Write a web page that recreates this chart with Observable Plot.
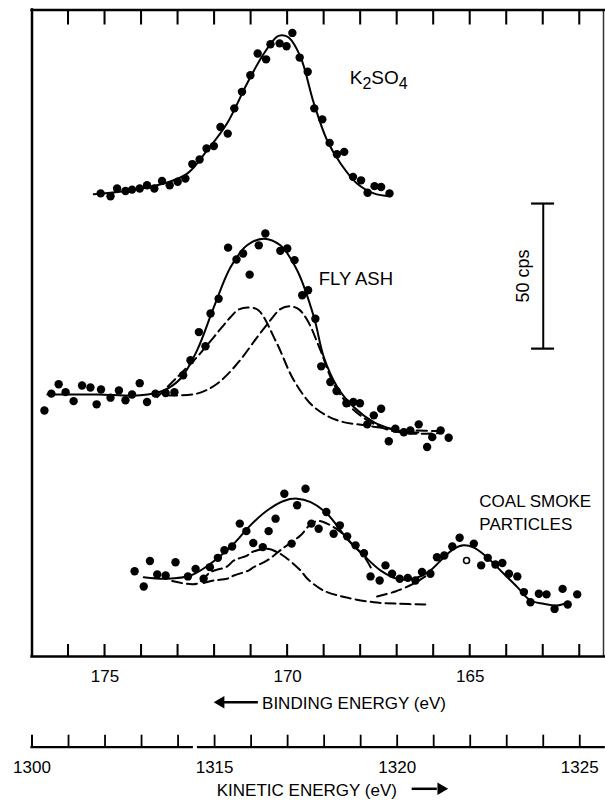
<!DOCTYPE html>
<html>
<head>
<meta charset="utf-8">
<script src="https://cdn.jsdelivr.net/npm/d3@7"></script>
<script src="https://cdn.jsdelivr.net/npm/@observablehq/plot@0.6"></script>
<style>
html, body { margin: 0; padding: 0; background: #fff; }
</style>
</head>
<body>
<div id="chart"></div>
<script>
// ---- Data: [binding energy (eV), intensity (cps, stacked offsets)] ----
const k2so4Dots = [[175.12,159.6],[174.85,158.6],[174.67,161.3],[174.44,160.4],[174.26,160.9],[174.05,161.3],[173.85,162.4],[173.65,161.3],[173.44,163.9],[173.23,162.4],[173.01,163.6],[172.80,164.7],[172.61,169.7],[172.41,171.3],[172.22,175.1],[172.02,175.9],[171.84,182.5],[171.64,180.2],[171.46,188.9],[171.25,194.6],[171.02,200.3],[170.82,207.8],[170.59,205.8],[170.47,211.0],[170.22,211.3],[170.03,210.3],[169.87,214.9],[169.67,206.4],[169.45,201.5],[169.27,188.9],[169.05,185.1],[168.85,177.0],[168.65,173.1],[168.45,173.9],[168.21,165.3],[167.99,164.1],[167.81,159.8],[167.62,162.1],[167.44,161.8],[167.21,159.6]];
const k2so4Fit = [[175.31,159.3],[174.30,160.7],[173.39,163.0],[172.75,166.4],[172.20,174.5],[171.66,183.7],[171.11,197.5],[170.65,207.8],[170.29,213.6],[170.15,214.1],[169.97,213.3],[169.65,206.7],[169.28,190.6],[168.92,177.9],[168.55,169.9],[168.10,163.0],[167.64,159.6],[167.18,158.6]];

const flyAshDots = [[176.66,84.8],[176.47,90.6],[176.27,93.8],[176.08,91.1],[175.86,88.0],[175.63,93.4],[175.40,92.7],[175.23,86.9],[175.11,92.0],[174.85,89.2],[174.62,91.7],[174.44,88.3],[174.26,90.3],[174.05,94.2],[173.85,87.7],[173.62,90.6],[173.34,90.8],[173.10,91.1],[172.86,96.9],[172.66,102.1],[172.43,111.8],[172.25,106.9],[172.11,118.2],[171.89,123.3],[171.63,140.9],[171.40,136.8],[171.22,138.9],[171.04,131.6],[170.79,141.7],[170.61,145.8],[170.20,139.8],[170.01,140.6],[169.81,136.6],[169.60,124.5],[169.44,126.2],[169.24,116.4],[169.08,100.0],[168.83,94.6],[168.66,91.5],[168.39,87.3],[168.20,87.7],[168.02,87.3],[167.82,80.0],[167.64,83.1],[167.44,85.4],[167.23,74.2],[167.05,78.5],[166.82,77.3],[166.64,77.9],[166.41,80.0],[166.18,72.2],[166.04,75.6],[165.81,77.9],[165.59,75.4]];
const flyAshFit = [[176.58,90.3],[175.21,90.3],[174.03,90.0],[173.39,91.7],[172.93,95.8],[172.48,105.5],[172.02,120.4],[171.56,134.2],[171.11,141.7],[170.65,144.0],[170.20,141.7],[169.74,133.1],[169.28,117.0],[169.01,103.2],[168.64,92.9],[168.19,86.0],[167.64,80.8],[167.18,78.5],[166.73,77.3],[166.42,77.2]];
const flyAshComp1 = [[173.57,89.4],[173.02,96.3],[172.48,103.2],[172.02,110.1],[171.56,117.0],[171.35,119.5],[171.07,120.3],[170.80,119.3],[170.29,107.8],[169.83,95.2],[169.28,86.0],[168.64,81.4],[167.91,79.7],[167.18,78.5],[166.55,77.9],[165.81,77.7]];
const flyAshComp2 = [[173.30,90.0],[172.48,90.6],[171.93,94.0],[171.38,100.9],[170.83,110.1],[170.47,115.9],[170.20,119.7],[169.95,120.7],[169.70,119.7],[169.46,115.9],[169.10,105.5],[168.74,94.0],[168.28,86.0],[167.73,80.8],[167.18,77.9],[166.55,76.8],[165.81,77.0]];

const coalDots = [[174.19,29.4],[173.94,24.1],[173.77,32.9],[173.57,28.3],[173.34,27.9],[173.07,32.5],[172.73,27.6],[172.52,30.2],[172.30,26.8],[172.13,30.8],[171.91,34.0],[171.73,36.6],[171.52,37.9],[171.31,45.8],[171.13,43.2],[170.94,39.1],[170.68,37.7],[170.52,43.2],[170.33,47.5],[170.09,56.1],[169.89,38.9],[169.74,52.1],[169.51,57.8],[169.35,45.8],[169.15,44.0],[168.94,49.8],[168.74,42.3],[168.57,45.2],[168.37,41.4],[168.14,38.3],[167.91,35.6],[167.73,27.6],[167.48,26.2],[167.32,31.4],[167.14,28.5],[166.93,26.8],[166.71,27.1],[166.50,26.2],[166.32,29.1],[166.09,28.5],[165.91,34.2],[165.71,34.8],[165.49,37.9],[165.29,40.9],[164.90,38.9],[164.70,31.4],[164.52,34.0],[164.31,31.7],[164.12,32.2],[163.94,28.5],[163.71,27.6],[163.53,22.2],[163.35,18.7],[163.12,21.6],[162.91,21.4],[162.69,16.4],[162.47,23.3],[162.33,17.9],[162.07,21.4]];
const coalOpenDots = [[165.10,33.1]];
const coalFit = [[173.94,27.3],[173.30,26.8],[172.66,27.9],[172.11,32.0],[171.47,38.9],[171.02,45.2],[170.56,50.3],[170.11,53.6],[169.74,54.4],[169.37,53.2],[168.92,49.2],[168.37,40.6],[167.91,34.8],[167.46,29.7],[167.00,26.8],[166.55,26.8],[166.09,29.7],[165.72,34.2],[165.45,37.1],[165.18,38.3],[164.90,37.5],[164.54,34.2],[164.08,28.5],[163.71,23.9],[163.35,19.3],[162.99,18.2],[162.62,17.6],[162.30,18.7]];
const coalComp1 = [[173.16,26.0],[172.48,25.1],[172.11,29.1],[171.66,31.0],[171.47,33.1],[171.11,34.8],[170.97,36.0],[170.56,37.1],[170.29,36.0],[170.06,34.2],[169.65,29.7],[169.46,26.8],[169.10,23.3],[168.92,22.2],[168.42,20.4],[167.64,18.7],[167.00,18.2],[166.23,17.9]];
const coalComp2 = [[172.30,25.3],[172.02,26.2],[171.66,26.8],[171.47,27.9],[171.06,29.7],[170.93,30.8],[170.56,33.1],[170.15,37.1],[169.65,41.7],[169.40,45.2],[169.19,46.7],[168.92,45.8],[168.55,42.9],[168.28,39.3],[167.91,34.5],[167.68,29.7]];
const coalComp3 = [[167.55,20.7],[167.05,22.4],[166.55,25.1],[166.23,27.6]];

// ---- Axis ticks and labels ----
const bindingTicks = [176,175,174,173,172,171,170,169,168,167,166,165,164,163,162];
const bindingLabels = [175, 170, 165];
const kineticTickPositions = [177, 172, 167, 162];   // binding-energy positions of the kinetic labels
const kineticLabels = ["1300", "1315", "1320", "1325"];
const scaleBarCps = [106.1, 156.1];                   // 50 cps bar

// ---- Helpers ----
const rows = pairs => pairs.map(([be, cps]) => ({be, cps}));
const X0 = 177, X1 = 161.35, YTOP = 222.8, PX = 2.9;  // PX: pixels per cps
const HALF = 0.028;                                     // half tick width in eV (~1 px)
const font = "'Liberation Sans', Arial, sans-serif";

const solid = {x: "be", y: "cps", curve: "catmull-rom", stroke: "black", strokeWidth: 2};
const dashed = {...solid, strokeDasharray: "10,5"};
const dots = {x: "be", y: "cps", r: 4.2, fill: "black"};

const chart = Plot.plot({
  width: 605,
  height: 805,
  marginLeft: 31.5,
  marginRight: 2,
  marginTop: 9.5,
  marginBottom: 149,
  x: {domain: [X0, X1], label: null},
  y: {domain: [0, YTOP], axis: null},
  style: {fontFamily: font, fontSize: "17px", background: "white", color: "black"},
  marks: [
    // frame
    Plot.ruleX([X0], {y1: 0, y2: YTOP, strokeWidth: 2.5, strokeLinecap: "square"}),
    Plot.ruleX([X1], {y1: 0, y2: YTOP, strokeWidth: 1.5, strokeOpacity: 0.8}),
    Plot.ruleY([0, YTOP], {x1: X0, x2: 161.3, strokeWidth: 2.3, strokeLinecap: "square"}),
    // inside ticks, top and bottom (filled bars)
    Plot.rect(bindingTicks, {x1: d => d + HALF, x2: d => d - HALF, y1: YTOP - 15 / PX, y2: YTOP, fill: "black", inset: 0}),
    Plot.rect(bindingTicks, {x1: d => d + HALF, x2: d => d - HALF, y1: 0, y2: 12 / PX, fill: "black", inset: 0}),
    // binding energy labels
    Plot.axisX(bindingLabels, {anchor: "bottom", tickSize: 0, tickPadding: 13.6, fontSize: 17, tickFormat: d => String(d), label: null}),
    Plot.text(["BINDING ENERGY (eV)"], {x: 170.70, y: 0, dy: 52.3, text: d => d, textAnchor: "start", lineAnchor: "bottom", fontSize: 17}),
    Plot.ruleY([0], {x1: 171.75, x2: 170.80, dy: 45.7, strokeWidth: 2.5}),
    Plot.dot([0], {x: 171.83, y: 0, dy: 45.7, symbol: "triangle", rotate: -90, r: 4.6, fill: "black"}),
    // kinetic energy axis (broken line)
    Plot.ruleY([0], {x1: X0, x2: 172.61, dy: 90.7, strokeWidth: 2.2, strokeLinecap: "square"}),
    Plot.ruleY([0], {x1: 172.47, x2: 161.3, dy: 90.7, strokeWidth: 2.2}),
    Plot.ruleX([X0], {y1: 0, y2: 12 / PX, dy: 90.7, strokeWidth: 2}),
    Plot.ruleX(bindingTicks, {y1: 0, y2: 12 / PX, dy: 90.7, strokeWidth: 1.8}),
    Plot.axisX(kineticTickPositions, {anchor: "bottom", tickSize: 0, tickPadding: 104.6, fontSize: 17, tickFormat: d => kineticLabels[kineticTickPositions.indexOf(d)], label: null}),
    Plot.text(["KINETIC ENERGY (eV)"], {x: 171.94, y: 0, dy: 139, text: d => d, textAnchor: "start", lineAnchor: "bottom", fontSize: 17}),
    Plot.ruleY([0], {x1: 166.59, x2: 165.90, dy: 132.3, strokeWidth: 2.5}),
    Plot.dot([0], {x: 165.80, y: 0, dy: 132.3, symbol: "triangle", rotate: 90, r: 4.6, fill: "black"}),
    // 50 cps scale bar
    Plot.ruleX([163.0], {y1: scaleBarCps[0], y2: scaleBarCps[1], strokeWidth: 2}),
    Plot.ruleY(scaleBarCps, {x1: 163.32, x2: 162.69, strokeWidth: 2.2}),
    Plot.text(["50 cps"], {x: 163.55, y: (scaleBarCps[0] + scaleBarCps[1]) / 2, text: d => d, rotate: -90, fontSize: 18}),
    // fitted curves
    Plot.line(rows(k2so4Fit), solid),
    Plot.line(rows(flyAshFit), solid),
    Plot.line(rows(flyAshComp1), dashed),
    Plot.line(rows(flyAshComp2), dashed),
    Plot.line(rows(coalFit), solid),
    Plot.line(rows(coalComp1), dashed),
    Plot.line(rows(coalComp2), dashed),
    Plot.line(rows(coalComp3), dashed),
    // measured points
    Plot.dot(rows(k2so4Dots), dots),
    Plot.dot(rows(flyAshDots), dots),
    Plot.dot(rows(coalDots), dots),
    Plot.dot(rows(coalOpenDots), {x: "be", y: "cps", r: 3, fill: "white", stroke: "black", strokeWidth: 1.6}),
    // sample labels
    Plot.text(["K2SO4"], {x: 168.30, y: 197.2, text: d => d, textAnchor: "start", lineAnchor: "bottom", fontSize: 19}),
    Plot.text(["FLY ASH"], {x: 169.15, y: 127.9, text: d => d, textAnchor: "start", lineAnchor: "bottom", fontSize: 18.5}),
    Plot.text(["COAL SMOKE\nPARTICLES"], {x: 164.75, y: 43.45, text: d => d, textAnchor: "start", lineAnchor: "bottom", fontSize: 17, lineHeight: 1.37})
  ]
});

// subscripts for K2SO4
const svgNS = "http://www.w3.org/2000/svg";
for (const t of chart.querySelectorAll("text")) {
  if (t.textContent === "K2SO4") {
    t.textContent = "";
    for (const [s, dy, fs] of [["K", 0, null], ["2", 4.3, "16px"], ["SO", -4.3, null], ["4", 4.3, "16px"]]) {
      const ts = document.createElementNS(svgNS, "tspan");
      ts.textContent = s;
      if (dy) ts.setAttribute("dy", dy);
      if (fs) ts.setAttribute("font-size", fs);
      t.appendChild(ts);
    }
  }
}
document.getElementById("chart").appendChild(chart);
</script>
</body>
</html>
